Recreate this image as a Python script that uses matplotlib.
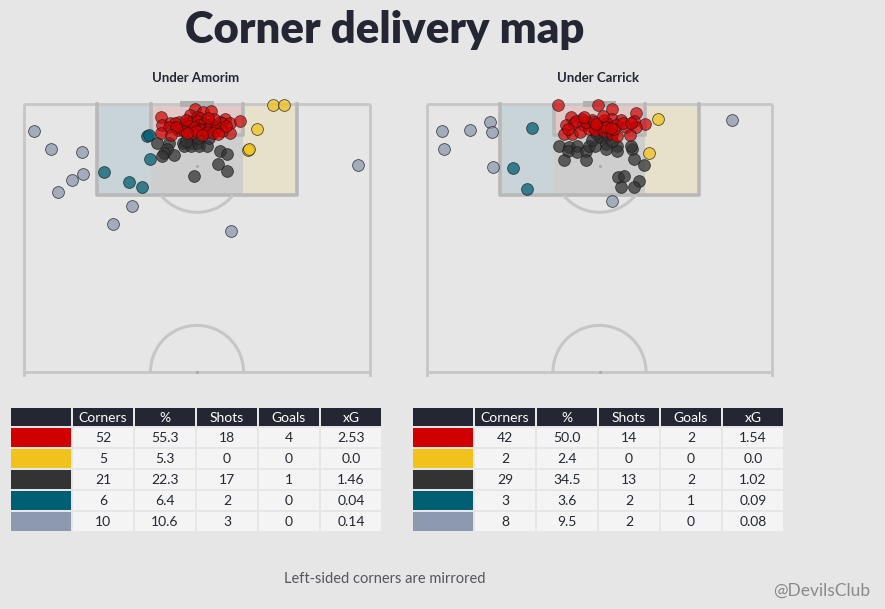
import matplotlib
matplotlib.use("Agg")
import matplotlib.pyplot as plt
from matplotlib.patches import Rectangle, Arc

# ---- data (Opta-style pitch units: u across 0-100, v up the pitch, goal at v=100)
amorim_red = [
    (49.4, 99.1), (51.7, 98.5), (54.0, 98.7), (48.0, 97.9), (50.0, 97.6), (50.9, 97.4), (58.1, 97.2), (39.6, 97.6),
    (42.2, 96.5), (44.8, 96.6), (43.6, 96.5), (46.5, 96.3), (47.7, 96.6), (48.6, 96.6), (50.0, 96.8), (52.0, 96.5),
    (52.6, 96.1), (54.0, 96.3), (56.6, 96.6), (57.2, 96.5), (59.5, 96.5), (62.4, 96.8), (39.9, 96.1), (50.6, 96.1),
    (47.4, 95.9), (41.9, 95.7), (45.4, 95.3), (44.5, 95.1), (48.0, 95.9), (49.1, 95.7), (50.9, 95.3), (51.4, 95.1),
    (53.8, 95.7), (55.2, 95.1), (55.8, 95.7), (46.2, 95.0), (43.9, 95.7), (46.8, 97.0), (54.9, 97.2), (53.2, 97.4),
    (39.6, 94.6), (42.5, 94.2), (48.8, 94.6), (52.9, 94.8), (54.6, 94.6), (59.5, 94.6), (49.7, 95.0), (57.2, 95.0),
    (47.1, 94.6), (58.4, 95.9), (56.1, 94.4), (51.4, 94.2),
]
amorim_yellow = [(72.1, 99.8), (75.2, 99.8), (67.3, 95.3), (64.8, 91.5), (65.1, 91.7)]
amorim_dark = [
    (38.5, 92.8), (42.0, 92.7), (41.4, 91.7), (40.5, 90.9), (39.8, 90.3), (43.4, 90.4), (45.9, 92.7),
    (46.1, 92.2), (48.3, 92.8), (48.3, 92.1), (50.4, 92.8), (50.6, 92.2), (53.0, 92.2), (53.5, 93.6),
    (56.7, 91.2), (58.8, 90.7), (56.2, 88.9), (58.8, 87.6), (49.2, 86.6), (50.3, 93.6), (46.8, 93.1),
]
amorim_teal = [(35.5, 94.0), (36.1, 94.2), (36.5, 89.7), (23.2, 87.3), (30.4, 85.4), (34.2, 84.5)]
amorim_grey = [
    (3.0, 94.9), (7.9, 91.7), (16.8, 91.0), (17.1, 86.9), (14.0, 85.8),
    (9.9, 83.5), (31.3, 80.9), (25.8, 77.6), (59.9, 76.4), (96.6, 88.6),
]

carrick_red = [
    (38.0, 99.8), (49.5, 99.9), (53.7, 99.0), (60.5, 98.3), (41.9, 97.6), (45.0, 97.3), (47.9, 97.0),
    (51.3, 97.0), (53.7, 97.2), (56.1, 97.0), (60.0, 96.9), (63.2, 96.3), (40.2, 96.0), (42.6, 96.4),
    (45.2, 96.1), (47.9, 95.7), (49.8, 95.7), (52.2, 96.4), (54.7, 96.0), (57.6, 95.8), (60.5, 95.7),
    (39.6, 94.5), (42.0, 94.5), (44.5, 94.8), (46.9, 95.3), (48.8, 95.1), (51.3, 94.9), (53.7, 94.5),
    (55.1, 94.0), (58.7, 94.2), (46.1, 96.6), (48.5, 96.6), (51.9, 95.7), (54.3, 95.3), (50.9, 97.8),
    (43.3, 96.8), (41.0, 95.3), (56.7, 96.5), (49.1, 96.3), (59.0, 96.5), (45.6, 97.6), (53.2, 95.5),
]
carrick_yellow = [(66.9, 97.3), (64.3, 90.8)]
carrick_dark = [
    (38.2, 92.1), (41.1, 91.9), (43.5, 92.1), (40.8, 91.2), (43.5, 91.0), (46.1, 91.2), (39.6, 89.6),
    (46.1, 89.6), (46.9, 92.2), (48.6, 92.1), (47.9, 93.3), (50.0, 93.8), (51.3, 93.8), (52.0, 92.5),
    (52.0, 91.6), (55.0, 92.1), (55.0, 91.3), (59.3, 91.7), (60.0, 89.7), (62.9, 88.6), (55.3, 86.4),
    (57.1, 86.5), (61.5, 85.6), (56.1, 84.6), (60.0, 84.6), (49.1, 94.6), (52.3, 94.2), (53.5, 93.1),
    (59.0, 92.2),
]
carrick_teal = [(30.6, 95.5), (25.1, 88.0), (28.9, 84.1)]
carrick_grey = [
    (4.4, 94.9), (5.0, 91.7), (12.6, 95.1), (18.4, 96.6),
    (19.0, 94.7), (19.3, 88.2), (53.6, 82.0), (88.2, 97.0),
]

zone_colors = ["#d00000", "#f1c21b", "#333333", "#005f73", "#8d99ae"]
columns = ["Corners", "%", "Shots", "Goals", "xG"]
amorim_table = [
    ["52", "55.3", "18", "4", "2.53"],
    ["5", "5.3", "0", "0", "0.0"],
    ["21", "22.3", "17", "1", "1.46"],
    ["6", "6.4", "2", "0", "0.04"],
    ["10", "10.6", "3", "0", "0.14"],
]
carrick_table = [
    ["42", "50.0", "14", "2", "1.54"],
    ["2", "2.4", "0", "0", "0.0"],
    ["29", "34.5", "13", "2", "1.02"],
    ["3", "3.6", "2", "1", "0.09"],
    ["8", "9.5", "2", "0", "0.08"],
]

BG = "#e6e6e6"
NAVY = "#242733"
LINE = "#c6c6c6"
BOX = "#b8b8b8"
FONT = "Lato"

W, H = 885, 609
fig = plt.figure(figsize=(W / 100, H / 100), dpi=100, facecolor=BG)


def px_axes(x, y, w, h):
    return fig.add_axes([x / W, 1 - (y + h) / H, w / W, h / H])


def draw_pitch(ax):
    ax.set_xlim(-2, 102)
    ax.set_ylim(49, 101.5)
    ax.axis("off")
    # zones
    zones = [((21.1, 83), 15.7, 17, zone_colors[3]),
             ((36.8, 94.2), 26.4, 5.8, zone_colors[0]),
             ((36.8, 83), 26.4, 11.2, zone_colors[2]),
             ((63.2, 83), 15.7, 17, zone_colors[1])]
    for xy, w, h, c in zones:
        ax.add_patch(Rectangle(xy, w, h, facecolor=c, alpha=0.13, lw=0, zorder=1))
    kw = dict(color=LINE, lw=2, solid_capstyle="butt", zorder=2)
    ax.plot([0, 100], [100, 100], **kw)
    ax.plot([0, 0], [49, 100], **kw)
    ax.plot([100, 100], [49, 100], **kw)
    ax.plot([0, 100], [50, 50], **kw)
    bkw = dict(color=BOX, lw=2.6, zorder=2)
    ax.plot([21.1, 21.1, 78.9, 78.9], [100, 83, 83, 100], **bkw)
    ax.plot([36.8, 36.8, 63.2, 63.2], [100, 94.2, 94.2, 100], **bkw)
    ax.add_patch(Rectangle((45.2, 99.4), 9.6, 1.1, facecolor="#b0b0b0", lw=0, zorder=2))
    ax.add_patch(Arc((50, 88.5), 26.9, 17.4, theta1=208, theta2=332, color=LINE, lw=2.2, zorder=2))
    ax.add_patch(Arc((50, 50), 26.9, 17.4, theta1=0, theta2=180, color=LINE, lw=2.2, zorder=2))
    ax.scatter([50, 50], [88.5, 50], s=5, color="#aaaaaa", lw=0, zorder=2)


def draw_shots(ax, groups):
    for pts, c, a in groups:
        xs = [p[0] for p in pts]
        ys = [p[1] for p in pts]
        ax.scatter(xs, ys, s=72, color=c, alpha=a, edgecolors="#1a1a1a",
                   linewidths=0.6, zorder=3)


ax_l = px_axes(17.1, 96, 359.8, 281.4)
ax_r = px_axes(419.6, 96, 359.8, 281.4)
for ax in (ax_l, ax_r):
    draw_pitch(ax)

draw_shots(ax_l, [(amorim_grey, zone_colors[4], 0.75), (amorim_teal, zone_colors[3], 0.75),
                  (amorim_yellow, zone_colors[1], 0.75), (amorim_dark, zone_colors[2], 0.75),
                  (amorim_red, zone_colors[0], 0.7)])
draw_shots(ax_r, [(carrick_grey, zone_colors[4], 0.75), (carrick_teal, zone_colors[3], 0.75),
                  (carrick_yellow, zone_colors[1], 0.75), (carrick_dark, zone_colors[2], 0.75),
                  (carrick_red, zone_colors[0], 0.7)])

# overlay for tables / text in pixel coordinates
ov = fig.add_axes([0, 0, 1, 1], zorder=-1)
ov.set_xlim(0, W)
ov.set_ylim(H, 0)
ov.axis("off")


def draw_table(x0, rows):
    cw, pitch = 60, 62
    top, hh, rh, rp = 408, 18, 19, 21
    # header
    for j in range(6):
        ov.add_patch(Rectangle((x0 + j * pitch, top), cw, hh, facecolor=NAVY, lw=0))
        if j > 0:
            ov.text(x0 + j * pitch + cw / 2, top + hh / 2 + 0.5, columns[j - 1], color="white",
                    ha="center", va="center", fontsize=10, family=FONT)
    for i, row in enumerate(rows):
        y = top + hh + 2 + i * rp
        ov.add_patch(Rectangle((x0, y), cw, rh, facecolor=zone_colors[i], lw=0))
        for j, val in enumerate(row):
            cx = x0 + (j + 1) * pitch
            ov.add_patch(Rectangle((cx, y), cw, rh, facecolor="#f4f4f4", lw=0))
            ov.text(cx + cw / 2, y + rh / 2 + 0.5, val, color=NAVY, ha="center", va="center",
                    fontsize=10, family=FONT)


draw_table(11, amorim_table)
draw_table(413, carrick_table)

ov.text(385, 30, "Corner delivery map", ha="center", va="center", fontsize=31.4,
        fontweight="heavy", color=NAVY, family=FONT)
ov.text(196, 78, "Under Amorim", ha="center", va="center", fontsize=9.5,
        fontweight="bold", color=NAVY, family=FONT)
ov.text(598, 78, "Under Carrick", ha="center", va="center", fontsize=9.5,
        fontweight="bold", color=NAVY, family=FONT)
ov.text(385, 579, "Left-sided corners are mirrored", ha="center", va="center",
        fontsize=10.5, color="#55565c", family=FONT)
ov.text(822, 591, "@DevilsClub", ha="center", va="center", fontsize=12.5,
        color="#8a8a8a", family=FONT)

fig.savefig("out.png", dpi=100, facecolor=BG)
